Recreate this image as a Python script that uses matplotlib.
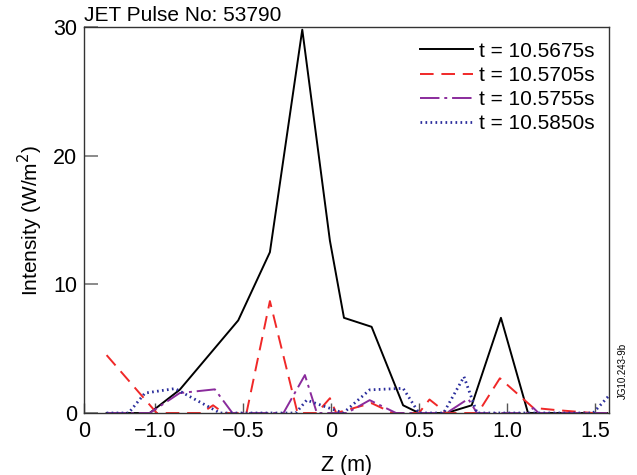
import numpy as np
import matplotlib.pyplot as plt

plt.rcParams['font.family'] = ['Liberation Sans', 'DejaVu Sans']

# Z positions (m) and intensities (W/m^2) for each time slice
z_a = [-1.275, -1.03, -0.86, -0.527, -0.347, -0.163, -0.006, 0.074, 0.231, 0.41, 0.5, 0.657, 0.8, 0.966, 1.12, 1.57]
i_a = [0, 0, 1.8, 7.2, 12.5, 29.8, 13.4, 7.4, 6.7, 0.6, 0, 0, 0.6, 7.4, 0, 0]

z_b = [-1.275, -0.99, -0.735, -0.67, -0.61, -0.48, -0.347, -0.19, -0.08, -0.006, 0.03, 0.23, 0.35, 0.5, 0.56, 0.657, 0.835, 0.96, 1.15, 1.28, 1.49, 1.57]
i_b = [4.5, 0, 0, 0.6, 0, 0, 8.7, 0, 0, 1.15, 0, 0.77, 0, 0, 1.05, 0, 0, 2.7, 0.4, 0.23, 0, 0]

z_c = [-1.275, -1.03, -0.86, -0.66, -0.56, -0.27, -0.148, -0.08, 0.09, 0.22, 0.37, 0.657, 0.78, 0.83, 1.12, 1.15, 1.18, 1.57]
i_c = [0, 0, 1.55, 1.84, 0, 0, 2.95, 0, 0, 1.0, 0, 0, 1.1, 0, 0, 0.4, 0, 0]

z_d = [-1.275, -1.15, -1.057, -0.886, -0.63, -0.2, -0.138, 0.07, 0.22, 0.41, 0.5, 0.64, 0.756, 0.83, 1.49, 1.575]
i_d = [0, 0, 1.55, 1.9, 0, 0, 1.0, 0, 1.8, 1.92, 0, 0, 2.82, 0, 0, 1.27]

labels = ['t = 10.5675s', 't = 10.5705s', 't = 10.5755s', 't = 10.5850s']

xmin, xmax = -1.403, 1.58
xtick_pos = [xmin, -1.0, -0.5, 0, 0.5, 1.0, 1.5]
xtick_lab = ['0', '\u22121.0', '\u22120.5', '0', '0.5', '1.0', '1.5']

fig = plt.figure(figsize=(6.37, 4.75), dpi=100)
ax = fig.add_axes([0.132, 0.1305, 0.824, 0.8125])

ax.plot(z_a, i_a, color='black', lw=1.4, label=labels[0])
ax.plot(z_b, i_b, color='#f02828', lw=1.4, ls=(0, (7, 4)), label=labels[1])
ax.plot(z_c, i_c, color='#8a2b9c', lw=1.4, ls=(0, (10, 2.5, 1.5, 2.5)), label=labels[2])
ax.plot(z_d, i_d, color='#2a2d9c', lw=2.0, ls=(0, (0.6, 1.2)), label=labels[3])

ax.set_xlim(xmin, xmax)
ax.set_ylim(0, 30)
ax.set_xticks(xtick_pos)
ax.set_xticklabels(xtick_lab)
ax.set_yticks([0, 10, 20, 30])
ax.tick_params(axis='y', direction='in', length=10, width=1.2, color='#777777', labelsize=15.5, pad=5)
ax.tick_params(axis='x', direction='in', length=7, width=1.0, color='#555555', labelsize=15.5, pad=6)
for s in ax.spines.values():
    s.set_linewidth(1.0)
    s.set_color('#333333')

ax.set_xlabel('Z (m)', fontsize=15.5, labelpad=9)
ax.set_ylabel('Intensity (W/m$^2$)', fontsize=15, labelpad=6)

fig.text(0.132, 0.968, 'JET Pulse No: 53790', fontsize=15, ha='left', va='center')
fig.text(0.978, 0.22, 'JG10.243-9b', fontsize=7, rotation=90, ha='center', va='center')

ax.legend(loc='upper right', frameon=False, fontsize=15, handlelength=2.5,
          handletextpad=0.3, labelspacing=0.25, borderaxespad=0.3)

fig.savefig('out.png', dpi=100)
